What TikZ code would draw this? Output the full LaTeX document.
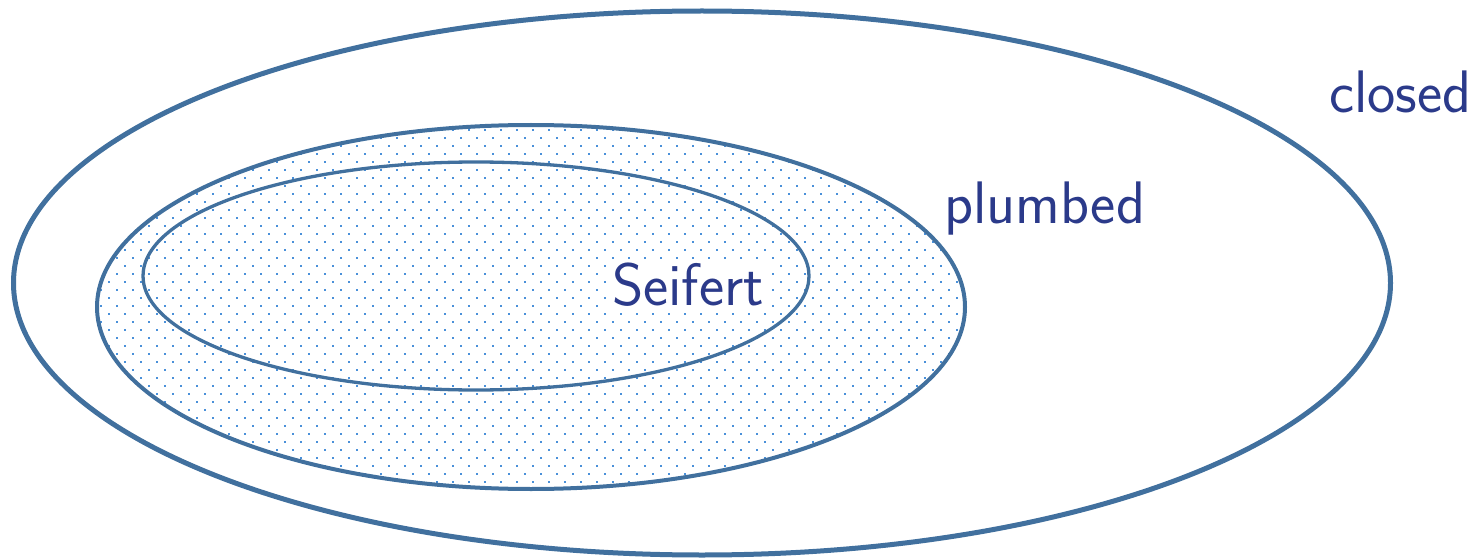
\documentclass[tikz,border=0pt]{standalone}
\usepackage{fontspec}
\definecolor{edgeblue}{HTML}{41709E}
\definecolor{dotblue}{HTML}{4A90D9}
\definecolor{textblue}{HTML}{2B3A8A}
\tikzset{
  setline/.style={draw=edgeblue},
  setlabel/.style={text=textblue, font=\sffamily\fontsize{60}{64}\selectfont, inner sep=0pt, anchor=base west},
}
\begin{document}
\begin{tikzpicture}[x=1pt,y=-1pt]
\useasboundingbox (0,0) rectangle (1481,559);
% dotted fill of plumbed region
\begin{scope}
\clip (531,307) ellipse [x radius=434, y radius=182];
\foreach \j in {0,...,46} {
  \pgfmathsetmacro{\yy}{122+8*\j}
  \pgfmathsetmacro{\xo}{mod(\j,2)==0 ? 92.7 : 100.7}
  \foreach \i in {0,...,55} {
    \fill[dotblue] ({\xo+16*\i-1},{\yy-1}) rectangle ++(2,2);
  }
}
\end{scope}
\draw[setline, line width=5pt] (702,283) ellipse [x radius=688.5, y radius=272];
\draw[setline, line width=4pt] (531,307) ellipse [x radius=434, y radius=182];
\draw[setline, line width=3.3pt] (476,276) ellipse [x radius=333, y radius=114];
\node[setlabel] (closed) at (1329,113) {closed};
\node[setlabel] (plumbed) at (944,223) {plumbed};
\node[setlabel, fill=white, inner sep=3pt] (seifert) at (609,305) {Seifert};
\end{tikzpicture}
\end{document}
